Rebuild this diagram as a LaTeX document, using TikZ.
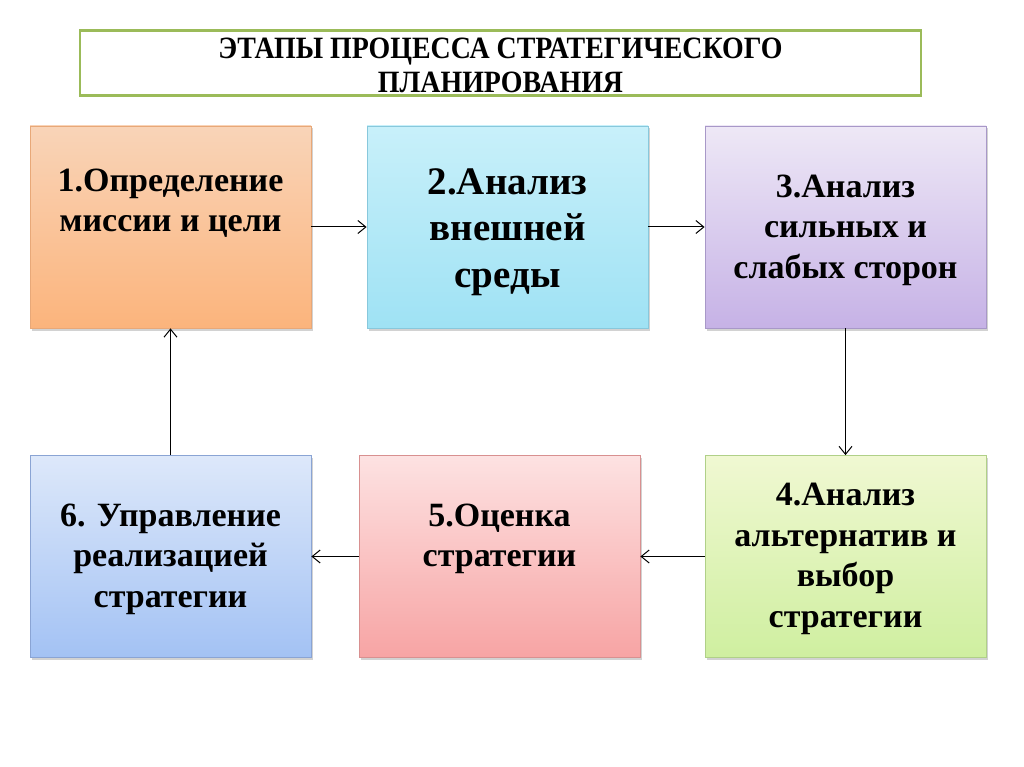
\documentclass[tikz,border=0pt]{standalone}
\usepackage{fontspec}
\setmainfont{Liberation Serif}
\newfontfamily\narrowfont[FakeStretch=0.9]{Liberation Serif}
\usetikzlibrary{arrows.meta,shadows}
\definecolor{titlegreen}{HTML}{9BBB59}
\definecolor{oTop}{HTML}{F9D4B8}\definecolor{oBot}{HTML}{FBB47C}\definecolor{oBrd}{HTML}{E8A878}
\definecolor{cTop}{HTML}{C8F0FA}\definecolor{cBot}{HTML}{9FE2F4}\definecolor{cBrd}{HTML}{88C8DC}
\definecolor{lTop}{HTML}{EEE8F6}\definecolor{lBot}{HTML}{C6B2E6}\definecolor{lBrd}{HTML}{A898C8}
\definecolor{bTop}{HTML}{DDE8FA}\definecolor{bBot}{HTML}{A3C2F4}\definecolor{bBrd}{HTML}{8AA4D4}
\definecolor{pTop}{HTML}{FDE2E2}\definecolor{pBot}{HTML}{F7A4A4}\definecolor{pBrd}{HTML}{D89090}
\definecolor{gTop}{HTML}{F0F8D2}\definecolor{gBot}{HTML}{CFEFA0}\definecolor{gBrd}{HTML}{B0D088}
\tikzset{
  stagebox/.style={rectangle, minimum width=281pt, minimum height=202pt, line width=0.8pt,
    drop shadow={shadow xshift=2pt, shadow yshift=-2.5pt, opacity=0.35}},
  stagetext/.style={align=center, font=\fontsize{34}{40.5}\selectfont\bfseries, inner sep=0pt},
  bigtext/.style={align=center, font=\fontsize{39}{46.5}\selectfont\bfseries, inner sep=0pt},
  flow/.style={line width=1pt, -{Straight Barb[length=8pt,width=13pt,line width=1pt]}},
}
\begin{document}
\begin{tikzpicture}[x=1pt,y=-1pt]
\useasboundingbox[fill=white] (0,0) rectangle (1024,767);
% title
\node[draw=titlegreen, line width=2.5pt, minimum width=841pt, minimum height=65pt, inner sep=0pt,
  align=center, font=\narrowfont\fontsize{31}{34}\selectfont\bfseries] (title) at (500.5,63) {};
\node[align=center, inner sep=0pt, font=\narrowfont\fontsize{31}{34}\selectfont\bfseries]
  (titletext) at (500.5,65) {ЭТАПЫ ПРОЦЕССА СТРАТЕГИЧЕСКОГО\\ПЛАНИРОВАНИЯ};
% boxes
\node[stagebox, draw=oBrd, top color=oTop, bottom color=oBot] (s1) at (170.5,227) {};
\node[stagebox, draw=cBrd, top color=cTop, bottom color=cBot] (s2) at (507.5,227) {};
\node[stagebox, draw=lBrd, top color=lTop, bottom color=lBot] (s3) at (845.5,227) {};
\node[stagebox, draw=gBrd, top color=gTop, bottom color=gBot] (s4) at (845.5,556.5) {};
\node[stagebox, draw=pBrd, top color=pTop, bottom color=pBot] (s5) at (499.5,556.5) {};
\node[stagebox, draw=bBrd, top color=bTop, bottom color=bBot] (s6) at (170.5,556.5) {};
% texts
\node[stagetext] (t1) at (170.5,203) {1.Определение\\миссии и цели};
\node[bigtext] (t2) at (507.5,232) {2.Анализ\\внешней\\среды};
\node[stagetext] (t3) at (845.5,230) {3.Анализ\\сильных и\\слабых сторон};
\node[stagetext] (t4) at (845.5,559) {4.Анализ\\альтернатив и\\выбор\\стратегии};
\node[stagetext] (t5) at (499.5,539) {5.Оценка\\стратегии};
\node[stagetext] (t6) at (170.5,559) {6. Управление\\реализацией\\стратегии};
% connectors
\draw[flow] (s1.east) -- (s2.west);
\draw[flow] (s2.east) -- (s3.west);
\draw[flow] (s3.south) -- (s4.north);
\draw[flow] (s4.west) -- (s5.east);
\draw[flow] (s5.west) -- (s6.east);
\draw[flow] (s6.north) -- (s1.south);
\end{tikzpicture}
\end{document}
